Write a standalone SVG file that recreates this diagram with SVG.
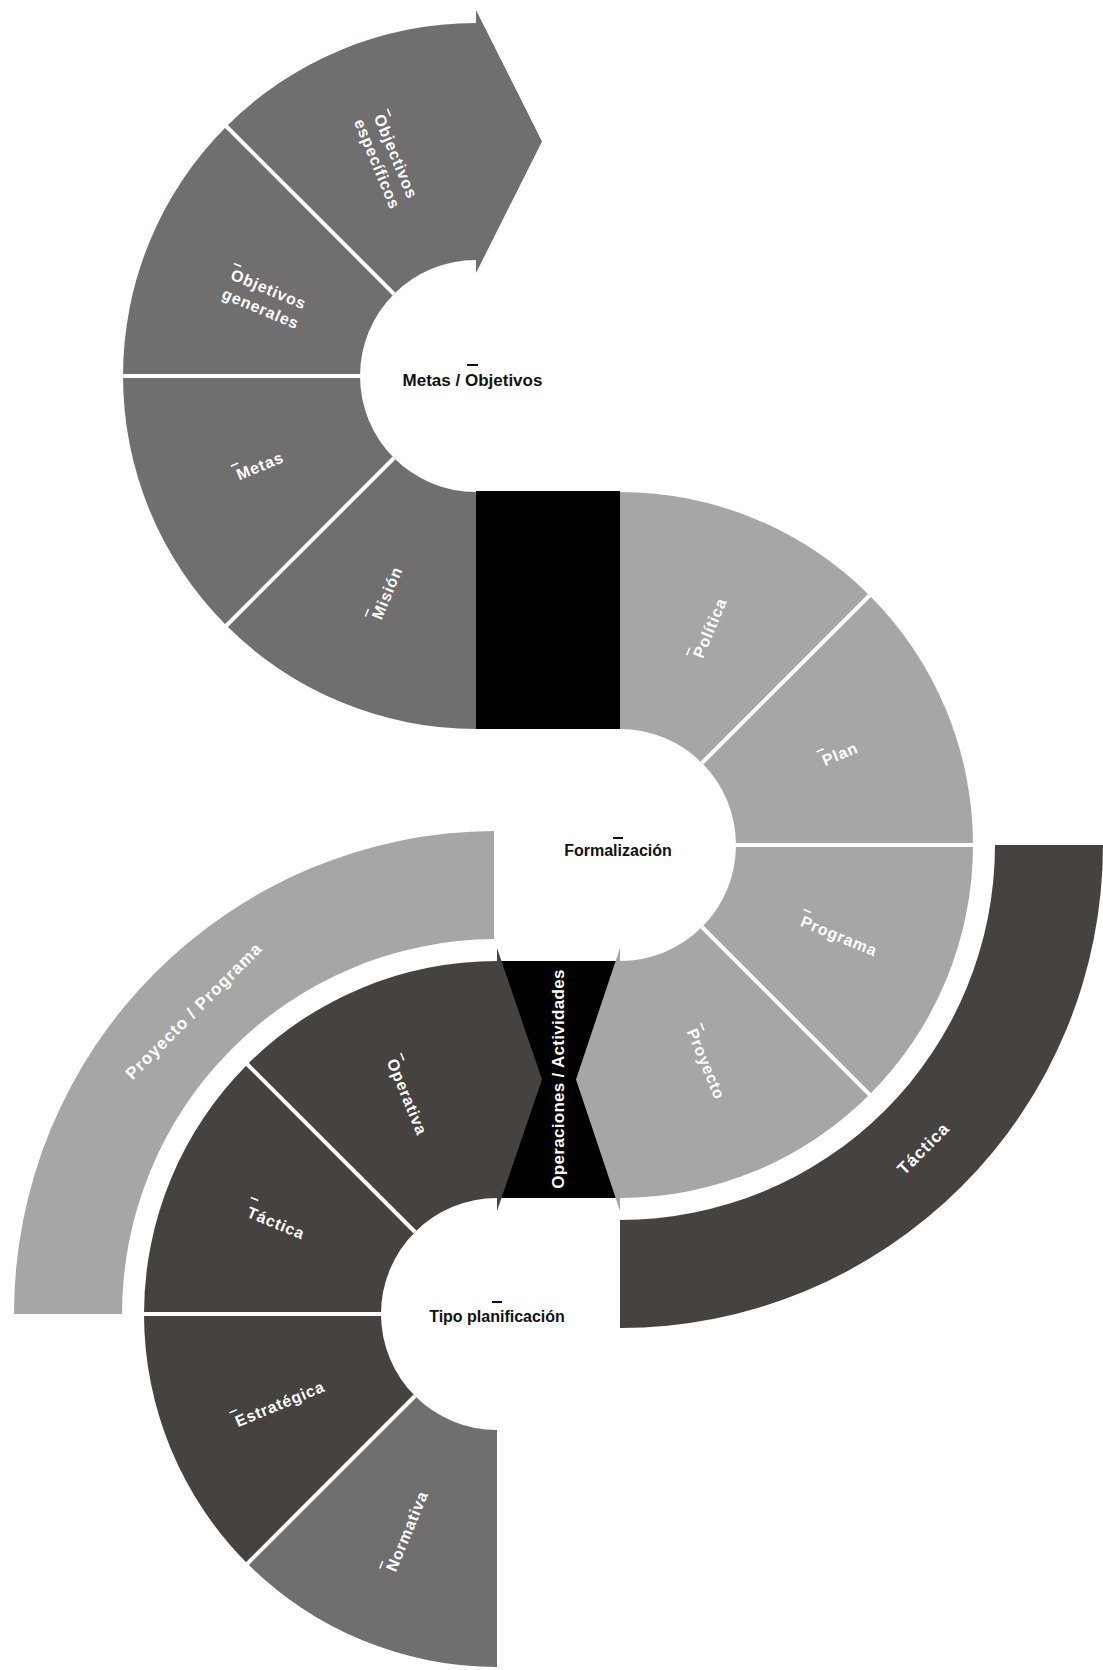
<svg xmlns="http://www.w3.org/2000/svg" width="1103" height="1670" viewBox="0 0 1103 1670">
<style>
.med{fill:#706e6f}
.light{fill:#a6a6a6}
.dark{fill:#46423f}
.blk{fill:#000}
.sep{stroke:#fff;stroke-width:4;fill:none}
.seg{font-family:'Liberation Sans',Arial,sans-serif;font-weight:700;font-size:16px;letter-spacing:0.8px;fill:#fff;text-anchor:middle}
.dash{stroke:#fff;stroke-width:1.6}
.ctr{font-family:'Liberation Sans',Arial,sans-serif;font-weight:700;font-size:16px;fill:#111;text-anchor:middle}
.cdash{stroke:#111;stroke-width:2}
.band{font-family:'Liberation Sans',Arial,sans-serif;font-weight:700;font-size:17px;letter-spacing:1px;fill:#fff;text-anchor:middle}
.ops{font-family:'Liberation Sans',Arial,sans-serif;font-weight:700;font-size:17px;letter-spacing:0.3px;fill:#fff;text-anchor:middle}
</style>
<rect width="1103" height="1670" fill="#fff"/>

<!-- outer bands -->
<g id="band-proyecto-programa">
<path class="light" d="M14,1314 A483,483 0 0 1 494,831 L494,939 A375,375 0 0 0 122,1314 Z"/>
<text class="band" transform="translate(193.7,1010.7) rotate(-45)" y="6">Proyecto / Programa</text>
</g>
<g id="band-tactica">
<path class="dark" d="M1103,845 A483,483 0 0 1 620,1328 L620,1220 A375,375 0 0 0 995,845 Z"/>
<text class="band" transform="translate(923.3,1148.3) rotate(-45)" y="6">Táctica</text>
</g>

<!-- black connectors -->
<g id="black-link-top">
<rect class="blk" x="476" y="491" width="144" height="238"/>
</g>
<g id="black-operaciones">
<rect class="blk" x="497" y="961" width="123" height="237"/>
</g>

<!-- Ring 1: Metas / Objetivos -->
<g id="ring-metas-objetivos">
<g id="seg-objetivos-especificos">
<path class="med" d="M226.4,126.4 A353,353 0 0 1 476,23 L476,10 L542,141.5 L476,273 L476,260 A116,116 0 0 0 394,294 Z"/>
<g transform="translate(387,160) rotate(67.5)">
<text class="seg" y="-4">Objectivos</text>
<text class="seg" y="16">específicos</text>
<line class="dash" x1="-47" y1="-20" x2="-39" y2="-20"/>
</g>
</g>
<g id="seg-objetivos-generales">
<path class="med" d="M123,376 A353,353 0 0 1 226.4,126.4 L394,294 A116,116 0 0 0 360,376 Z"/>
<g transform="translate(265,298) rotate(22.5)">
<text class="seg" y="-4">Objetivos</text>
<text class="seg" y="17">generales</text>
<line class="dash" x1="-42" y1="-20" x2="-34" y2="-20"/>
</g>
</g>
<g id="seg-metas">
<path class="med" d="M226.4,625.6 A353,353 0 0 1 123,376 L360,376 A116,116 0 0 0 394,458 Z"/>
<g transform="translate(260,466) rotate(-22.5)">
<text class="seg" y="5.5">Metas</text>
<line class="dash" x1="-27" y1="-11" x2="-19" y2="-11"/>
</g>
</g>
<g id="seg-mision">
<path class="med" d="M476,729 A353,353 0 0 1 226.4,625.6 L394,458 A116,116 0 0 0 476,492 Z"/>
<g transform="translate(387,593) rotate(-67.5)">
<text class="seg" y="5.5">Misión</text>
<line class="dash" x1="-30" y1="-11" x2="-22" y2="-11"/>
</g>
</g>
</g>

<!-- Ring 2: Formalización -->
<g id="ring-formalizacion">
<g id="seg-politica">
<path class="light" d="M620,492 A353,353 0 0 1 869.6,595.4 L702,763 A116,116 0 0 0 620,729 Z"/>
<g transform="translate(709.9,627.9) rotate(-67.5)">
<text class="seg" y="5.5">Política</text>
<line class="dash" x1="-34" y1="-11" x2="-26" y2="-11"/>
</g>
</g>
<g id="seg-plan">
<path class="light" d="M869.6,595.4 A353,353 0 0 1 973,845 L736,845 A116,116 0 0 0 702,763 Z"/>
<g transform="translate(840,754) rotate(-22.5)">
<text class="seg" y="5.5">Plan</text>
<line class="dash" x1="-21" y1="-11" x2="-13" y2="-11"/>
</g>
</g>
<g id="seg-programa">
<path class="light" d="M973,845 A353,353 0 0 1 869.6,1094.6 L702,927 A116,116 0 0 0 736,845 Z"/>
<g transform="translate(839,936) rotate(22.5)">
<text class="seg" y="5.5">Programa</text>
<line class="dash" x1="-43" y1="-11" x2="-35" y2="-11"/>
</g>
</g>
<g id="seg-proyecto">
<path class="light" d="M869.6,1094.6 A353,353 0 0 1 620,1198 L620,1211 L576,1079.5 L620,948 L620,961 A116,116 0 0 0 702,927 Z"/>
<g transform="translate(706,1064) rotate(67.5)">
<text class="seg" y="5.5">Proyecto</text>
<line class="dash" x1="-40" y1="-11" x2="-32" y2="-11"/>
</g>
</g>
</g>

<!-- Ring 3: Tipo planificación -->
<g id="ring-tipo-planificacion">
<g id="seg-operativa">
<path class="dark" d="M247.4,1064.4 A353,353 0 0 1 497,961 L497,948 L542,1079.5 L497,1211 L497,1198 A116,116 0 0 0 415,1232 Z"/>
<g transform="translate(407.1,1096.9) rotate(67.5)">
<text class="seg" y="5.5">Operativa</text>
<line class="dash" x1="-43" y1="-11" x2="-35" y2="-11"/>
</g>
</g>
<g id="seg-tactica">
<path class="dark" d="M144,1314 A353,353 0 0 1 247.4,1064.4 L415,1232 A116,116 0 0 0 381,1314 Z"/>
<g transform="translate(276,1223) rotate(22.5)">
<text class="seg" y="5.5">Táctica</text>
<line class="dash" x1="-33" y1="-14" x2="-25" y2="-14"/>
</g>
</g>
<g id="seg-estrategica">
<path class="dark" d="M247.4,1563.6 A353,353 0 0 1 144,1314 L381,1314 A116,116 0 0 0 415,1396 Z"/>
<g transform="translate(279.9,1403.9) rotate(-22.5)">
<text class="seg" y="5.5">Estratégica</text>
<line class="dash" x1="-50" y1="-11" x2="-42" y2="-11"/>
</g>
</g>
<g id="seg-normativa">
<path class="med" d="M497,1667 A353,353 0 0 1 247.4,1563.6 L415,1396 A116,116 0 0 0 497,1430 Z"/>
<g transform="translate(407.1,1531.1) rotate(-67.5)">
<text class="seg" y="5.5">Normativa</text>
<line class="dash" x1="-45" y1="-11" x2="-37" y2="-11"/>
</g>
</g>
</g>

<!-- separators -->
<g id="separators">
<line class="sep" x1="394" y1="294" x2="225" y2="125"/>
<line class="sep" x1="360" y1="376" x2="122" y2="376"/>
<line class="sep" x1="394" y1="458" x2="225" y2="627"/>
<line class="sep" x1="702" y1="763" x2="871" y2="594"/>
<line class="sep" x1="736" y1="845" x2="974" y2="845"/>
<line class="sep" x1="702" y1="927" x2="871" y2="1096"/>
<line class="sep" x1="415" y1="1232" x2="246" y2="1063"/>
<line class="sep" x1="381" y1="1314" x2="143" y2="1314"/>
<line class="sep" x1="415" y1="1396" x2="246" y2="1565"/>
</g>

<!-- operations label -->
<g id="label-operaciones">
<text class="ops" transform="translate(563.5,1079) rotate(-90)">Operaciones / Actividades</text>
</g>

<!-- centre labels -->
<g id="center-metas-objetivos">
<text class="ctr" x="472.5" y="386" style="font-size:17px">Metas / Objetivos</text>
<line class="cdash" x1="467" y1="365" x2="478" y2="365"/>
</g>
<g id="center-formalizacion">
<text class="ctr" x="618" y="855.5">Formalización</text>
<line class="cdash" x1="613" y1="838" x2="623" y2="838"/>
</g>
<g id="center-tipo-planificacion">
<text class="ctr" x="497" y="1322">Tipo planificación</text>
<line class="cdash" x1="492" y1="1302" x2="502" y2="1302"/>
</g>
</svg>
